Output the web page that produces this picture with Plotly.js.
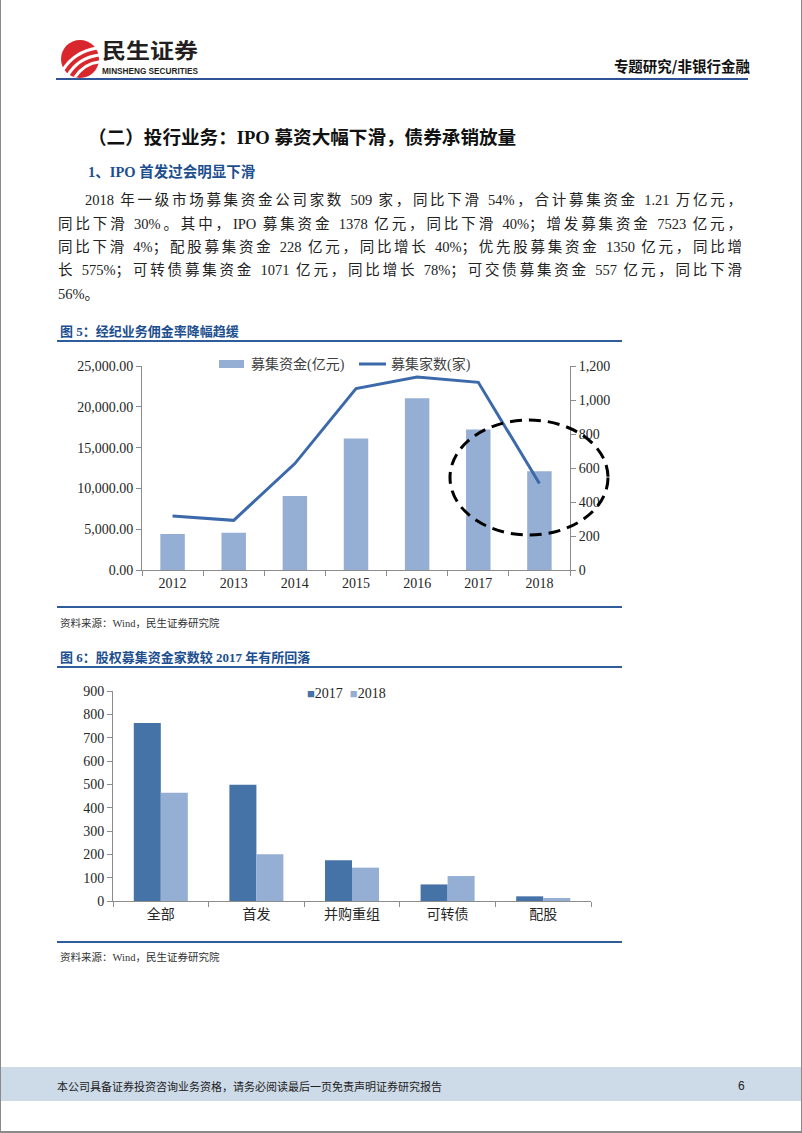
<!DOCTYPE html>
<html><head><meta charset="utf-8">
<script src="https://cdn.plot.ly/plotly-3.0.1.min.js"></script>
<style>
html,body{margin:0;padding:0;background:#fff;}
#page{position:relative;width:802px;height:1133px;overflow:hidden;background:#fff;}
.abs{position:absolute;white-space:nowrap;}
.para{position:absolute;white-space:nowrap;font-family:'Liberation Serif','Noto Sans CJK SC',serif;font-size:14.5px;color:#222;height:23px;line-height:23px;}
.just{text-align:justify;text-align-last:justify;}
.figt{position:absolute;left:60px;font-family:'Liberation Serif','Noto Sans CJK SC',serif;font-weight:bold;font-size:13px;color:#1d4f8f;height:18px;line-height:18px;white-space:nowrap;}
.src{position:absolute;left:60px;font-family:'Liberation Serif','Noto Sans CJK SC',serif;font-size:10.5px;color:#333;height:14px;line-height:14px;white-space:nowrap;}
.hl{position:absolute;left:57px;width:565px;height:2px;background:#2f5d9b;}
.chart{position:absolute;left:0;width:802px;height:280px;}
</style></head>
<body>
<div id="page">
  <!-- page border -->
  <div class="abs" style="left:0;top:0;width:1px;height:1133px;background:#8a8a8a;"></div>
  <div class="abs" style="left:801px;top:0;width:1px;height:1133px;background:#8a8a8a;"></div>
  <div class="abs" style="left:0;top:1131px;width:802px;height:2px;background:#8a8a8a;"></div>

  <!-- header -->
  <svg class="abs" style="left:0;top:0;" width="110" height="90">
    <circle cx="80" cy="59" r="19" fill="#d9272e"/>
    <path d="M63,70 C69,60 80,51 97,48" stroke="#fff" stroke-width="3.2" fill="none"/>
    <path d="M68,75 C74,65 84,57 99,55" stroke="#fff" stroke-width="3.2" fill="none"/>
    <path d="M75,77 C80,70 88,63 99,62" stroke="#fff" stroke-width="3" fill="none"/>
  </svg>
  <div id="cnname" class="abs" style="left:102px;top:39.4px;height:21px;line-height:21px;font-family:'Noto Sans CJK SC';font-weight:bold;font-size:21px;color:#231f20;transform-origin:0 50%;">民生证券</div>
  <div id="msname" class="abs" style="left:102px;top:66.4px;height:9px;line-height:9px;font-family:'Liberation Sans';font-weight:bold;font-size:9.5px;color:#231f20;transform-origin:0 50%;">MINSHENG SECURITIES</div>
  <div class="abs" style="left:600px;width:150px;top:56px;height:20px;line-height:20px;text-align:right;font-family:'Noto Sans CJK SC';font-weight:bold;font-size:14.5px;color:#111;">专题研究/非银行金融</div>
  <div class="abs" style="left:56px;top:78px;width:692px;height:2px;background:#2e5396;"></div>

  <!-- headings -->
  <div class="abs" style="left:88px;top:125px;height:26px;line-height:26px;font-family:'Liberation Serif','Noto Sans CJK SC',serif;font-weight:bold;font-size:18.6px;color:#111;">（二）投行业务：IPO 募资大幅下滑，债券承销放量</div>
  <div class="abs" style="left:88px;top:162px;height:20px;line-height:20px;font-family:'Liberation Serif','Noto Sans CJK SC',serif;font-weight:bold;font-size:14.5px;color:#1d4f8f;">1、IPO 首发过会明显下滑</div>

  <div class="para just" style="left:85px;width:657px;top:189px;">2018 年一级市场募集资金公司家数 509 家，同比下滑 54%，合计募集资金 1.21 万亿元，</div>
  <div class="para just" style="left:58px;width:684px;top:213px;">同比下滑 30%。其中，IPO 募集资金 1378 亿元，同比下滑 40%；增发募集资金 7523 亿元，</div>
  <div class="para just" style="left:58px;width:684px;top:236px;">同比下滑 4%；配股募集资金 228 亿元，同比增长 40%；优先股募集资金 1350 亿元，同比增</div>
  <div class="para just" style="left:58px;width:684px;top:259px;">长 575%；可转债募集资金 1071 亿元，同比增长 78%；可交债募集资金 557 亿元，同比下滑</div>
  <div class="para" style="left:58px;top:283px;">56%。</div>

  <!-- figure 5 -->
  <div class="figt" style="top:323px;">图 5：经纪业务佣金率降幅趋缓</div>
  <div class="hl" style="top:340px;"></div>
  <div id="chart1" class="chart" style="top:340px;"></div>
  <div class="hl" style="top:606px;"></div>
  <div class="src" style="top:617px;">资料来源：Wind，民生证券研究院</div>

  <!-- figure 6 -->
  <div class="figt" style="top:649px;">图 6：股权募集资金家数较 2017 年有所回落</div>
  <div class="hl" style="top:666px;"></div>
  <div id="chart2" class="chart" style="top:670px;"></div>
  <div class="hl" style="top:941px;"></div>
  <div class="src" style="top:951px;">资料来源：Wind，民生证券研究院</div>

  <!-- footer -->
  <div class="abs" style="left:1px;top:1067px;width:800px;height:34px;background:#cddae8;"></div>
  <div class="abs" style="left:57px;top:1077px;height:18px;line-height:18px;font-family:'Noto Sans CJK SC';font-size:11px;color:#222;">本公司具备证券投资咨询业务资格，请务必阅读最后一页免责声明证券研究报告</div>
  <div class="abs" style="left:738px;top:1077px;height:18px;line-height:18px;font-family:'Liberation Sans';font-size:12px;color:#222;">6</div>
</div>

<script>
// stretch / squeeze the logo texts to the logo width (96px)
['cnname', 'msname'].forEach(function (id) {
  const s = document.getElementById(id);
  const w = s.getBoundingClientRect().width;
  if (w > 0) s.style.transform = 'scaleX(' + (96 / w) + ')';
});

// ---------- data ----------
const years = ['2012', '2013', '2014', '2015', '2016', '2017', '2018'];
const fundsRaised = [4410, 4570, 9060, 16110, 21040, 17220, 12100];   // 募集资金(亿元)
const companyCount = [317, 292, 626, 1067, 1135, 1104, 509];          // 募集家数(家)
const seriesNames1 = ['募集资金(亿元)', '募集家数(家)'];

const categories2 = ['全部', '首发', '并购重组', '可转债', '配股'];
const count2017 = [763, 498, 175, 71, 20];
const count2018 = [464, 200, 143, 107, 13];
const seriesNames2 = ['2017', '2018'];

// ---------- styles ----------
const barLight = '#95aed4';
const barDark = '#4572a7';
const lineBlue = '#3c69a9';
const axisGray = '#8c8c8c';
const textCol = '#262626';
const fontFam = 'Liberation Serif, Noto Sans CJK SC, serif';

// ---------- chart 1 ----------
const m1 = {l: 142, r: 232, t: 26, b: 50};
const W = 802, H = 280;
const pw1 = W - m1.l - m1.r, ph1 = H - m1.t - m1.b;
const PX1 = x => (x - m1.l) / pw1;             // page x -> paper
const PY1 = y => (340 + m1.t + ph1 - y) / ph1; // page y -> paper

const axisCommon = {
  showline: true, linecolor: axisGray, linewidth: 1,
  ticks: 'outside', ticklen: 5, tickcolor: axisGray, tickwidth: 1,
  showgrid: false, zeroline: false,
  tickfont: {family: fontFam, size: 14, color: textCol}
};

Plotly.newPlot('chart1', [
  {type: 'bar', name: seriesNames1[0], x: years, y: fundsRaised, yaxis: 'y',
   marker: {color: barLight}, hoverinfo: 'skip'},
  {type: 'scatter', mode: 'lines', name: seriesNames1[1], x: years, y: companyCount, yaxis: 'y2',
   line: {color: lineBlue, width: 3}, hoverinfo: 'skip'}
], {
  width: W, height: H, margin: m1,
  paper_bgcolor: 'rgba(0,0,0,0)', plot_bgcolor: 'rgba(0,0,0,0)',
  showlegend: false, bargap: 0.6,
  font: {family: fontFam, size: 14, color: textCol},
  xaxis: Object.assign({}, axisCommon, {type: 'category', tickson: 'boundaries'}),
  yaxis: Object.assign({}, axisCommon, {range: [0, 25000], dtick: 5000, tickformat: ',.2f'}),
  yaxis2: Object.assign({}, axisCommon, {overlaying: 'y', side: 'right', range: [0, 1200], dtick: 200, tickformat: ',d'}),
  shapes: [
    {type: 'rect', xref: 'paper', yref: 'paper', x0: PX1(219), x1: PX1(244), y0: PY1(368), y1: PY1(360),
     fillcolor: barLight, line: {width: 0}},
    {type: 'line', xref: 'paper', yref: 'paper', x0: PX1(359), x1: PX1(386), y0: PY1(364), y1: PY1(364),
     line: {color: lineBlue, width: 3}},
    {type: 'circle', xref: 'paper', yref: 'paper', layer: 'above',
     x0: PX1(450), x1: PX1(608), y0: PY1(535), y1: PY1(420),
     line: {color: '#000', width: 3, dash: '12px,7px'}}
  ],
  annotations: [
    {xref: 'paper', yref: 'paper', x: PX1(249), y: PY1(364), xanchor: 'left', yanchor: 'middle', showarrow: false,
     text: seriesNames1[0], font: {family: fontFam, size: 14, color: '#404040'}},
    {xref: 'paper', yref: 'paper', x: PX1(389), y: PY1(364), xanchor: 'left', yanchor: 'middle', showarrow: false,
     text: seriesNames1[1], font: {family: fontFam, size: 14, color: '#404040'}}
  ]
}, {staticPlot: true, displayModeBar: false});

// ---------- chart 2 ----------
const m2 = {l: 113, r: 211, t: 21, b: 49};
const pw2 = W - m2.l - m2.r, ph2 = H - m2.t - m2.b;
const PX2 = x => (x - m2.l) / pw2;
const PY2 = y => (670 + m2.t + ph2 - y) / ph2;

Plotly.newPlot('chart2', [
  {type: 'bar', name: seriesNames2[0], x: categories2, y: count2017, marker: {color: barDark}, hoverinfo: 'skip'},
  {type: 'bar', name: seriesNames2[1], x: categories2, y: count2018, marker: {color: barLight}, hoverinfo: 'skip'}
], {
  width: W, height: H, margin: m2,
  paper_bgcolor: 'rgba(0,0,0,0)', plot_bgcolor: 'rgba(0,0,0,0)',
  showlegend: false, barmode: 'group', bargap: 0.435, bargroupgap: 0,
  font: {family: fontFam, size: 14, color: textCol},
  xaxis: Object.assign({}, axisCommon, {type: 'category', tickson: 'boundaries'}),
  yaxis: Object.assign({}, axisCommon, {range: [0, 900], dtick: 100, tickformat: 'd'}),
  annotations: [
    {xref: 'paper', yref: 'paper', x: PX2(346.5), y: PY2(693.3), xanchor: 'center', yanchor: 'middle', showarrow: false,
     text: '<span style="color:' + barDark + ';font-size:13px">■</span>' + seriesNames2[0] +
           '  <span style="color:' + barLight + ';font-size:13px">■</span>' + seriesNames2[1],
     font: {family: fontFam, size: 14, color: textCol}}
  ]
}, {staticPlot: true, displayModeBar: false});
</script>
</body></html>
